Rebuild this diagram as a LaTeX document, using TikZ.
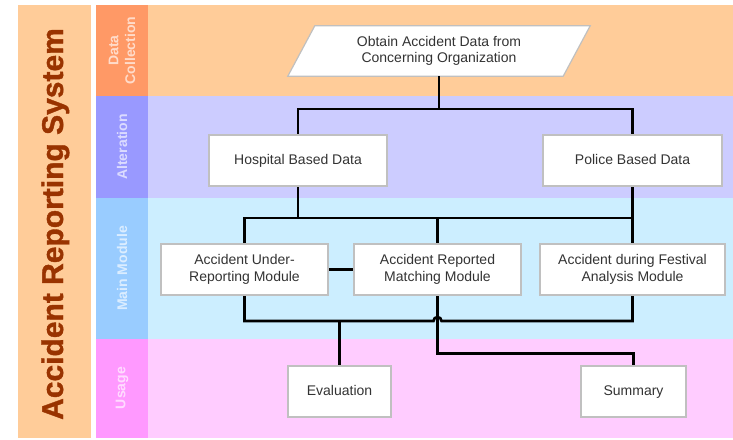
\documentclass[tikz,border=0pt]{standalone}
\usepackage{fontspec}
\setmainfont{Liberation Sans}
\newfontfamily\ttlfont[FakeBold=1.2]{Liberation Sans Bold}
\usetikzlibrary{calc}
\definecolor{titlebg}{HTML}{FFCC99}
\definecolor{titletxt}{HTML}{993300}
\definecolor{dcL}{HTML}{FF9966}
\definecolor{dcC}{HTML}{FFCC99}
\definecolor{alL}{HTML}{9999FF}
\definecolor{alC}{HTML}{CCCCFF}
\definecolor{mmL}{HTML}{99CCFF}
\definecolor{mmC}{HTML}{CCEEFF}
\definecolor{usL}{HTML}{FF99FF}
\definecolor{usC}{HTML}{FFCCFF}
\definecolor{boxgray}{HTML}{C0C0C0}
\definecolor{txtgray}{HTML}{333333}
\newcommand\bxfont{\fontsize{14}{16.7}\selectfont}
\newcommand\lnfont{\fontsize{14}{17}\selectfont\bfseries}
\pgfdeclarelayer{lanes}
\pgfdeclarelayer{lines}
\pgfsetlayers{lanes,lines,main}
\begin{document}
\begin{tikzpicture}[x=1pt,y=-1pt,
  box/.style={draw=boxgray, line width=1.2pt, fill=white, minimum height=51pt, inner sep=2pt, align=center, font=\bxfont, text=txtgray},
  oneline/.style={text height=10pt, text depth=3pt},
  conn/.style={line width=2.6pt, draw=black},
  lanelbl/.style={rotate=90, align=center, font=\lnfont, text=white, text opacity=0.65}]
\useasboundingbox (0,0) rectangle (733,439);
\begin{pgfonlayer}{lanes}
\fill[white] (0,0) rectangle (733,439);
\fill[titlebg] (18,5) rectangle (91,438);
\fill[dcL] (96,5) rectangle (148,96);
\fill[dcC] (148,5) rectangle (733,96);
\fill[alL] (96,96) rectangle (148,198);
\fill[alC] (148,96) rectangle (733,198);
\fill[mmL] (96,198) rectangle (148,339);
\fill[mmC] (148,198) rectangle (733,339);
\fill[usL] (96,339) rectangle (148,438);
\fill[usC] (148,339) rectangle (733,438);
\end{pgfonlayer}
\node[rotate=90, anchor=base, font=\fontsize{30}{31}\ttlfont, text=titletxt, inner sep=0pt] (title) at (63,224) {Accident Reporting System};
\node[lanelbl] (ldc) at (122,50.5) {Data\\Collection};
\node[lanelbl] (lal) at (122,147) {Alteration};
\node[lanelbl] (lmm) at (122,268.5) {Main Module};
\node[lanelbl] (lus) at (122,388) {Usage};
\node[minimum width=275pt, minimum height=50pt, inner sep=0pt, align=center, font=\bxfont, text=txtgray] (obtain) at (439,51) {Obtain Accident Data from\\Concerning Organization};
\node[box, oneline, minimum width=178pt] (hosp) at (298,160.5) {Hospital Based Data};
\node[box, oneline, minimum width=179pt] (police) at (632.5,160.5) {Police Based Data};
\node[box, minimum width=167pt] (under) at (244.5,269.5) {Accident Under-\\Reporting Module};
\node[box, minimum width=167pt] (match) at (437.5,269.5) {Accident Reported\\Matching Module};
\node[box, minimum width=185pt] (fest) at (632.5,269.5) {Accident during Festival\\Analysis Module};
\node[box, oneline, minimum width=103pt] (eval) at (339.5,391.5) {Evaluation};
\node[box, oneline, minimum width=105pt] (summ) at (633.5,391.5) {Summary};
\begin{pgfonlayer}{lines}
\draw[draw=boxgray, line width=1.2pt, fill=white] ($(obtain.south west)+(-13.5,0)$) -- ($(obtain.north west)+(13.5,0)$) -- ($(obtain.north east)+(13.5,0)$) -- ($(obtain.south east)+(-13.5,0)$) -- cycle;
\coordinate (j1) at (439,109);
\coordinate (j2) at (0,218);
\coordinate (j3) at (0,321);
\draw[conn] (hosp.north) |- (police.north |- j1) -- (police.north);
\draw[conn] (obtain.south) -- (obtain.south |- j1);
\draw[conn] (under.north) |- (police.south |- j2);
\draw[conn] (hosp.south) -- (hosp.south |- j2);
\draw[conn] (match.north) -- (match.north |- j2);
\draw[conn] (police.south) -- (police.south |- j3) -- ($(match.south |- j3)+(4,0)$) arc[start angle=0, end angle=180, radius=4pt] -- (under.south |- j3) -- (under.south);
\draw[conn] (under.east) -- (match.west);
\draw[conn] (eval.north) -- (eval.north |- j3);
\draw[conn] (match.south) -- ++(0,58) -| (summ.north);
\end{pgfonlayer}
\end{tikzpicture}
\end{document}
